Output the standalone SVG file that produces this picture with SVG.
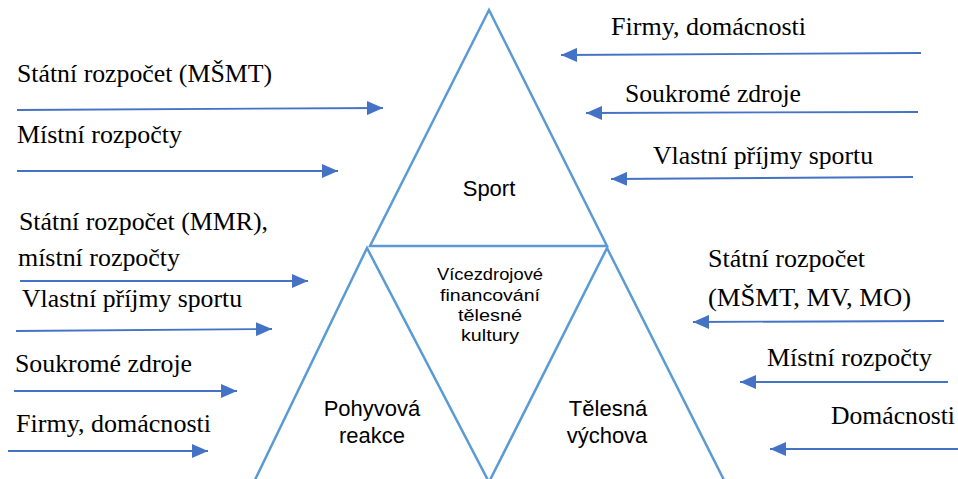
<svg xmlns="http://www.w3.org/2000/svg" width="958" height="479" viewBox="0 0 958 479">
  <style>
    .tri { fill: none; stroke: #5B9BD5; stroke-width: 2.5; stroke-linejoin: miter; }
    .arr { fill: none; stroke: #4472C4; stroke-width: 1.8; marker-end: url(#ah); }
    .lbl { font-family: "Liberation Serif", "Times New Roman", serif; font-size: 25px; fill: #000; }
    .big { font-family: "Liberation Sans", Arial, sans-serif; font-size: 22px; fill: #000; text-anchor: middle; }
    .small { font-family: "Liberation Sans", Arial, sans-serif; font-size: 17px; fill: #000; text-anchor: middle; }
  </style>
  <defs>
    <marker id="ah" markerUnits="userSpaceOnUse" markerWidth="16" markerHeight="14" refX="16" refY="7" orient="auto">
      <path d="M0,0 L16,7 L0,14 Z" fill="#4472C4"/>
    </marker>
  </defs>
  <rect width="958" height="479" fill="#fff"/>

  <g id="sport">
    <polygon class="tri" points="489,10 370,246 607,246"/>
    <text class="big" x="489" y="196">Sport</text>
  </g>
  <g id="vicezdrojove">
    <text class="small" x="490" y="280" textLength="106" lengthAdjust="spacingAndGlyphs">Vícezdrojové</text>
    <text class="small" x="490" y="301" textLength="100" lengthAdjust="spacingAndGlyphs">financování</text>
    <text class="small" x="490" y="321" textLength="64" lengthAdjust="spacingAndGlyphs">tělesné</text>
    <text class="small" x="490" y="341" textLength="58" lengthAdjust="spacingAndGlyphs">kultury</text>
  </g>
  <g id="pohybova">
    <polyline class="tri" points="252,486 367,248 491,486"/>
    <text class="big" x="372" y="416">Pohyvová</text>
    <text class="big" x="372" y="443">reakce</text>
  </g>
  <g id="telesna">
    <polyline class="tri" points="487,486 607,248 727,486"/>
    <text class="big" x="608" y="416">Tělesná</text>
    <text class="big" x="607" y="443">výchova</text>
  </g>

  <g id="connectors">
    <line class="arr" x1="17" y1="110" x2="383" y2="108"/>
    <line class="arr" x1="17" y1="171" x2="338" y2="171"/>
    <line class="arr" x1="20" y1="281" x2="308" y2="281"/>
    <line class="arr" x1="16" y1="331" x2="272" y2="329"/>
    <line class="arr" x1="14" y1="391" x2="237" y2="391"/>
    <line class="arr" x1="8" y1="451" x2="208" y2="451"/>
    <line class="arr" x1="921" y1="53" x2="561" y2="55"/>
    <line class="arr" x1="918" y1="112" x2="586" y2="113"/>
    <line class="arr" x1="913" y1="177" x2="611" y2="179"/>
    <line class="arr" x1="944" y1="321" x2="693" y2="322"/>
    <line class="arr" x1="948" y1="382" x2="740" y2="382"/>
    <line class="arr" x1="960" y1="449" x2="770" y2="449"/>
  </g>

  <g id="labels">
    <text class="lbl" x="17" y="82" textLength="255" lengthAdjust="spacingAndGlyphs">Státní rozpočet (MŠMT)</text>
    <text class="lbl" x="17" y="143" textLength="165" lengthAdjust="spacingAndGlyphs">Místní rozpočty</text>
    <text class="lbl" x="19" y="230" textLength="249" lengthAdjust="spacingAndGlyphs">Státní rozpočet (MMR),</text>
    <text class="lbl" x="18" y="266" textLength="162" lengthAdjust="spacingAndGlyphs">místní rozpočty</text>
    <text class="lbl" x="22" y="307" textLength="220" lengthAdjust="spacingAndGlyphs">Vlastní příjmy sportu</text>
    <text class="lbl" x="15" y="372" textLength="177" lengthAdjust="spacingAndGlyphs">Soukromé zdroje</text>
    <text class="lbl" x="16" y="432" textLength="195" lengthAdjust="spacingAndGlyphs">Firmy, domácnosti</text>
    <text class="lbl" x="611" y="35" textLength="195" lengthAdjust="spacingAndGlyphs">Firmy, domácnosti</text>
    <text class="lbl" x="625" y="102" textLength="176" lengthAdjust="spacingAndGlyphs">Soukromé zdroje</text>
    <text class="lbl" x="653" y="164" textLength="220" lengthAdjust="spacingAndGlyphs">Vlastní příjmy sportu</text>
    <text class="lbl" x="708" y="267" textLength="157" lengthAdjust="spacingAndGlyphs">Státní rozpočet</text>
    <text class="lbl" x="708" y="306" textLength="203" lengthAdjust="spacingAndGlyphs">(MŠMT, MV, MO)</text>
    <text class="lbl" x="767" y="366" textLength="165" lengthAdjust="spacingAndGlyphs">Místní rozpočty</text>
    <text class="lbl" x="831" y="424" textLength="124" lengthAdjust="spacingAndGlyphs">Domácnosti</text>
  </g>
</svg>
